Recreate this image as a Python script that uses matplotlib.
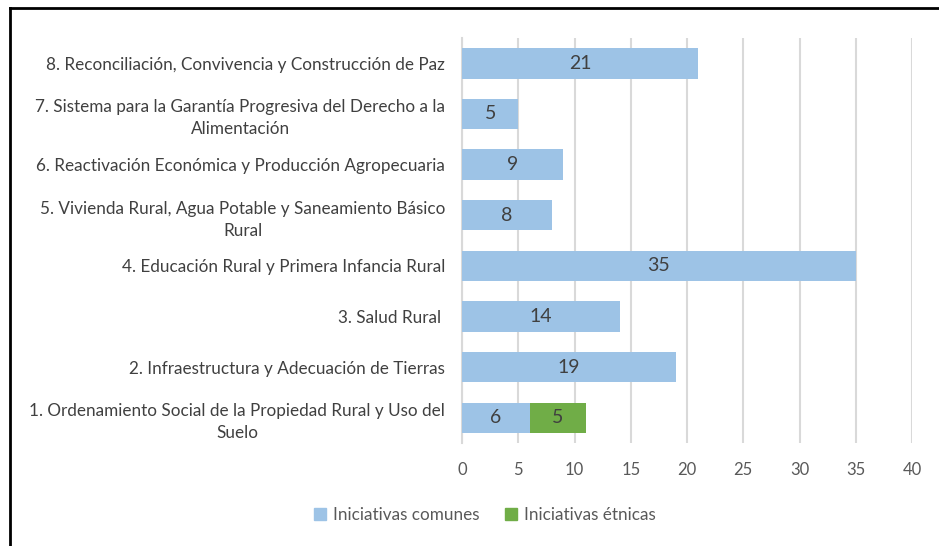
import matplotlib.pyplot as plt
from matplotlib.lines import Line2D
from matplotlib.patches import Patch

categories = [
    "1. Ordenamiento Social de la Propiedad Rural y Uso del\nSuelo",
    "2. Infraestructura y Adecuación de Tierras",
    "3. Salud Rural ",
    "4. Educación Rural y Primera Infancia Rural",
    "5. Vivienda Rural, Agua Potable y Saneamiento Básico\nRural",
    "6. Reactivación Económica y Producción Agropecuaria",
    "7. Sistema para la Garantía Progresiva del Derecho a la\nAlimentación",
    "8. Reconciliación, Convivencia y Construcción de Paz",
]
comunes = [6, 19, 14, 35, 8, 9, 5, 21]
etnicas = [5, 0, 0, 0, 0, 0, 0, 0]
x_ticks = [0, 5, 10, 15, 20, 25, 30, 35, 40]

BLUE = "#9DC3E6"
GREEN = "#70AD47"
TEXT = "#404040"

plt.rcParams["font.family"] = ["Lato", "DejaVu Sans"]

fig = plt.figure(figsize=(9.39, 5.46), dpi=100)
ax = fig.add_axes([462 / 939, 1 - 443 / 546, 450 / 939, 405 / 546])

y = list(range(len(categories)))
ax.barh(y, comunes, height=0.6, color=BLUE, zorder=3)
ax.barh(y, etnicas, left=comunes, height=0.6, color=GREEN, zorder=3)

for i in y:
    ax.text(comunes[i] / 2, i, str(comunes[i]), ha="center", va="center",
            fontsize=14, color=TEXT, zorder=4)
    if etnicas[i]:
        ax.text(comunes[i] + etnicas[i] / 2, i, str(etnicas[i]), ha="center",
                va="center", fontsize=14, color=TEXT, zorder=4)

ax.set_xlim(0, 40)
ax.set_ylim(-0.5, len(categories) - 0.5)
ax.set_xticks(x_ticks)
ax.set_yticks(y)
ax.set_yticklabels(categories, multialignment="center", linespacing=1.45)
ax.tick_params(axis="y", length=0, pad=12, labelsize=12.3, labelcolor=TEXT)
ax.tick_params(axis="x", length=0, pad=14, labelsize=12, labelcolor="#595959")
ax.grid(axis="x", color="#D9D9D9", linewidth=1.5, zorder=0)
for side in ["top", "right", "bottom"]:
    ax.spines[side].set_visible(False)
ax.spines["left"].set_color("#D9D9D9")
ax.spines["left"].set_linewidth(1.5)

handles = [Patch(color=BLUE, label="Iniciativas comunes"),
           Patch(color=GREEN, label="Iniciativas étnicas")]
fig.legend(handles=handles, loc="center", bbox_to_anchor=(485 / 939, 1 - 515 / 546),
           ncol=2, frameon=False, fontsize=12.3, labelcolor="#595959",
           handlelength=0.7, handleheight=0.7, handletextpad=0.4, columnspacing=1.5)

# outer frame (left and top edges visible in the crop)
fig.add_artist(Line2D([10 / 939, 10 / 939], [0, 1 - 8 / 546], color="black",
                      linewidth=2, transform=fig.transFigure))
fig.add_artist(Line2D([10 / 939, 1], [1 - 8 / 546, 1 - 8 / 546], color="black",
                      linewidth=2, transform=fig.transFigure))

fig.savefig("out.png", dpi=100)
